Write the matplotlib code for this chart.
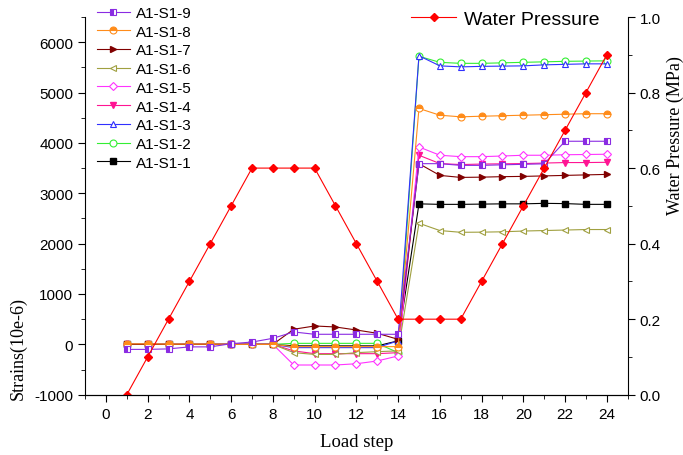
import matplotlib
matplotlib.use("Agg")
import matplotlib.pyplot as plt
from matplotlib.ticker import MultipleLocator

# load steps 1..24
steps = list(range(1, 25))

# strain readings (10e-6)
s1_1 = [0, 0, 0, 0, 0, 0, 0, 0, -30, -30, -30, -30, -30, 70,
        2790, 2780, 2780, 2785, 2790, 2790, 2800, 2795, 2780, 2780]
s1_2 = [0, 0, 0, 0, 0, 0, 0, 0, 20, 20, 20, 20, 20, -165,
        5720, 5600, 5580, 5580, 5590, 5600, 5610, 5620, 5625, 5630]
s1_3 = [0, 0, 0, 0, 0, 0, 0, 0, -65, -65, -65, -65, -65, 70,
        5730, 5530, 5510, 5520, 5525, 5530, 5550, 5560, 5570, 5570]
s1_4 = [0, 0, 0, 0, 0, 0, 0, 0, -130, -185, -185, -185, -185, -165,
        3755, 3590, 3570, 3580, 3585, 3590, 3600, 3610, 3610, 3615]
s1_5 = [0, 0, 0, 0, 0, 0, 0, 0, -410, -410, -410, -385, -330, -230,
        3920, 3755, 3727, 3727, 3740, 3755, 3755, 3765, 3770, 3775]
s1_6 = [0, 0, 0, 0, 0, 0, 0, 0, -165, -200, -200, -165, -145, -130,
        2405, 2260, 2225, 2228, 2235, 2250, 2260, 2270, 2280, 2280]
s1_7 = [0, 0, 0, 0, 0, 0, 0, 0, 300, 365, 345, 285, 220, 100,
        3588, 3355, 3315, 3320, 3330, 3335, 3345, 3355, 3365, 3375]
s1_8 = [10, 10, 5, 5, 5, 0, 0, 0, -45, -45, -45, -45, -45, -45,
        4684, 4550, 4518, 4530, 4540, 4550, 4560, 4570, 4580, 4580]
s1_9 = [-100, -100, -90, -50, -50, 13, 46, 120, 246, 200, 200, 200, 200, 200,
        3588, 3588, 3554, 3554, 3565, 3575, 3585, 4033, 4033, 4033]

# water pressure (MPa)
pressure = [0.0, 0.1, 0.2, 0.3, 0.4, 0.5, 0.6, 0.6, 0.6, 0.6, 0.5, 0.4,
            0.3, 0.2, 0.2, 0.2, 0.2, 0.3, 0.4, 0.5, 0.6, 0.7, 0.8, 0.9]

series = [
    ('A1-S1-1', s1_1, '#000000', 's', 'full'),
    ('A1-S1-2', s1_2, '#33ee33', 'o', 'none'),
    ('A1-S1-3', s1_3, '#3030ff', '^', 'none'),
    ('A1-S1-4', s1_4, '#ff1493', 'v', 'full'),
    ('A1-S1-5', s1_5, '#ff33ff', 'D', 'none'),
    ('A1-S1-6', s1_6, '#a0a040', '<', 'none'),
    ('A1-S1-7', s1_7, '#800000', '>', 'full'),
    ('A1-S1-8', s1_8, '#ff8c1a', 'o', 'top'),
    ('A1-S1-9', s1_9, '#8a2be2', 's', 'left'),
]

plt.rcParams['font.family'] = 'Liberation Sans'
plt.rcParams['axes.unicode_minus'] = False

fig = plt.figure(figsize=(6.83, 4.56), dpi=100)
ax = fig.add_axes([0.1245, 0.1322, 0.7945, 0.8283])

handles = []
for name, vals, col, mk, fs in series:
    ms = 4.5 if mk == 'D' else 5
    if fs == 'none':
        h, = ax.plot(steps, vals, color=col, lw=0.8, marker=mk, ms=ms,
                     mfc='white', mec=col, mew=0.8, label=name)
    elif fs == 'full':
        h, = ax.plot(steps, vals, color=col, lw=0.8, marker=mk, ms=ms,
                     mfc=col, mec=col, label=name)
    else:
        h, = ax.plot(steps, vals, color=col, lw=0.8, marker=mk, ms=ms,
                     fillstyle=fs, mfc=col, mfcalt='white', mec=col,
                     mew=0.8, label=name)
    handles.append(h)

ax.set_xlim(-1, 25)
ax.set_ylim(-1000, 6500)
ax.xaxis.set_major_locator(MultipleLocator(2))
ax.xaxis.set_minor_locator(MultipleLocator(1))
ax.yaxis.set_minor_locator(MultipleLocator(500))
ax.set_yticks(range(-1000, 6001, 1000))
ax.tick_params(axis='both', which='major', direction='out', length=5,
               labelsize=11)
ax.tick_params(axis='both', which='minor', direction='out', length=3)
ax.spines['top'].set_visible(False)
ax.spines['right'].set_visible(False)
ax.set_xlabel('Load step', family='Liberation Serif', fontsize=13.5,
              labelpad=9)
ax.set_ylabel('Strains(10e-6)', family='Liberation Serif', fontsize=13)
ax.yaxis.set_label_coords(-0.107, 0.126)

ax2 = ax.twinx()
wp, = ax2.plot(steps, pressure, color='#ff0000', lw=0.8, marker='D',
               ms=4, mfc='#ff0000', mec='#ff0000', label='Water Pressure')
ax2.set_ylim(0, 1.0)
ax2.yaxis.set_major_locator(MultipleLocator(0.2))
ax2.yaxis.set_minor_locator(MultipleLocator(0.1))
ax2.yaxis.set_major_formatter(matplotlib.ticker.FormatStrFormatter('%.1f'))
ax2.tick_params(axis='y', which='major', direction='out', length=5,
                labelsize=11)
ax2.tick_params(axis='y', which='minor', direction='out', length=3)
ax2.spines['top'].set_visible(False)
ax2.spines['left'].set_visible(False)
ax2.set_ylabel('Water Pressure (MPa)', family='Liberation Serif',
               fontsize=13)
ax2.yaxis.set_label_coords(1.072, 0.69)

fig.legend(handles[::-1], [h.get_label() for h in handles[::-1]],
           loc='upper left', bbox_to_anchor=(0.128, 1.005), frameon=False,
           fontsize=11, handlelength=2.2, handletextpad=0.4,
           labelspacing=0.31, borderaxespad=0.2)
fig.legend([wp], ['Water Pressure'], loc='upper left',
           bbox_to_anchor=(0.585, 1.0), frameon=False, fontsize=14,
           handlelength=2.3, handletextpad=0.4, borderaxespad=0.2)

fig.savefig('out.png', dpi=100)
